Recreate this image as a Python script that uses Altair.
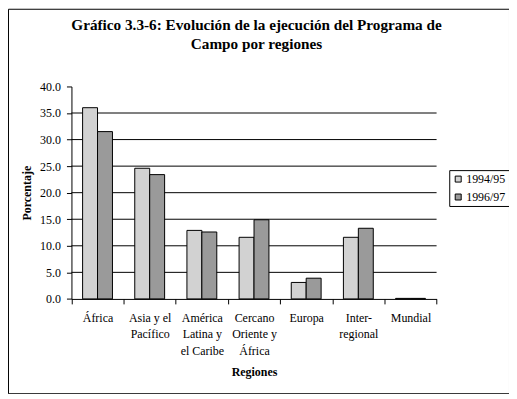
import altair as alt
import pandas as pd

regions = ["África", "Asia y el|Pacífico", "América|Latina y|el Caribe",
           "Cercano|Oriente y|África", "Europa", "Inter-|regional", "Mundial"]
periods = ["1994/95", "1996/97"]
v9495 = [36.0, 24.6, 12.9, 11.6, 3.1, 11.6, 0.1]
v9697 = [31.5, 23.4, 12.6, 14.9, 3.9, 13.3, 0.1]
grid_vals = [5, 10, 15, 20, 25, 30, 35]
y_ticks = [0, 5, 10, 15, 20, 25, 30, 35, 40]
fills = ["#d2d2d2", "#9a9a9a"]

rows = []
for r, a, b in zip(regions, v9495, v9697):
    rows.append({"region": r, "period": periods[0], "value": a})
    rows.append({"region": r, "period": periods[1], "value": b})
df = pd.DataFrame(rows)
gdf = pd.DataFrame({"value": grid_vals})

FONT = "Liberation Serif"
W, H = 503, 386
X0, X1 = 63.7, 430.3
Y0, Y1 = 291.3, 78

yscale = alt.Scale(domain=[0, 40], range=[Y0, Y1], nice=False, zero=True)
yaxis = alt.Axis(title="Porcentaje", orient="left", offset=-X0,
                 values=y_ticks, format=".1f", grid=False,
                 labelFont=FONT, labelFontSize=12, labelColor="black",
                 labelPadding=6, tickSize=5, tickColor="black",
                 domainColor="black", titleFont=FONT, titleFontSize=12,
                 titleFontWeight="bold", titleColor="black",
                 titleX=-45, titleBaseline="middle")

grid = alt.Chart(gdf).mark_rule(color="black", strokeWidth=1).encode(
    y=alt.Y("value:Q", scale=yscale, axis=yaxis),
    x=alt.value(X0),
    x2=alt.value(X1),
)

bars = alt.Chart(df).mark_bar(stroke="black", strokeWidth=1).encode(
    x=alt.X("region:N", sort=regions,
            scale=alt.Scale(range=[X0, X1], paddingInner=0, paddingOuter=0),
            axis=alt.Axis(title="Regiones", orient="bottom", offset=-(H - Y0),
                          labelExpr="split(datum.label, '|')", labelAngle=0,
                          labelFont=FONT, labelFontSize=12, labelColor="black",
                          labelLineHeight=16.6, labelPadding=8.5, labelBaseline="top",
                          tickBand="extent", tickSize=5, tickColor="black",
                          domainColor="black", titleFont=FONT, titleFontSize=12,
                          titleFontWeight="bold", titleColor="black",
                          titleY=73, titleBaseline="middle")),
    xOffset=alt.XOffset("period:N", sort=periods,
                        scale=alt.Scale(paddingOuter=0.747, paddingInner=0)),
    y=alt.Y("value:Q", scale=yscale, axis=yaxis),
    fill=alt.Fill("period:N", sort=periods,
                  scale=alt.Scale(domain=periods, range=fills),
                  legend=alt.Legend(title=None, orient="none", legendX=443, legendY=162,
                                    symbolType="square", symbolSize=36,
                                    symbolStrokeColor="black", symbolStrokeWidth=1,
                                    labelFont=FONT, labelFontSize=12, labelColor="black",
                                    strokeColor="black", fillColor="white", padding=3,
                                    rowPadding=6, labelOffset=2, labelLimit=60)),
)

chart = alt.layer(grid, bars).properties(
    width=W, height=H, autosize="none", padding=0, background="white",
    title=alt.TitleParams(
        text=["Gráfico 3.3-6: Evolución de la ejecución del Programa de",
              "Campo por regiones"],
        font=FONT, fontSize=15.3, fontWeight="bold", color="black",
        anchor="middle", offset=-44, lineHeight=19.5, dx=-2),
).configure_view(stroke="black", strokeWidth=1, fill="white")

chart.save("out.html", embed_options={"renderer": "svg", "actions": False})
